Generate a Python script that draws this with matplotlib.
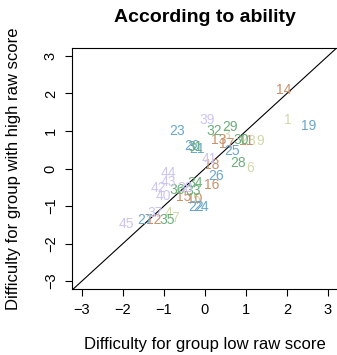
import matplotlib
matplotlib.use("Agg")
import matplotlib.pyplot as plt
import numpy as np

plt.rcParams['font.family'] = ['Liberation Sans', 'DejaVu Sans']

labels = list(range(1, 46))
x_low = [2.03, 0.95, 0.53, -0.88, -0.20, 1.10, -0.73, 1.14, 1.34,
         -0.24, 1.00, -1.26, 0.34, 1.91, -0.53, 0.16, 0.53, 0.16,
         2.54, -0.32, -0.20, -0.22, -0.69, -0.10, 0.65, 0.27, -1.46,
         0.81, 0.61, 0.89, -0.24, 0.22, -0.29, -0.24, -0.93, -0.69,
         -1.22, -0.49, 0.06, -1.02, 0.10, -1.14, -0.89, -0.89, -1.91]
y_high = [1.28, 0.75, 0.88, -1.18, -0.82, 0.00, -1.31, 0.74, 0.74,
          -0.82, 0.74, -1.36, 0.77, 2.09, -0.75, -0.45, 0.66, 0.09,
          1.14, 0.59, 0.51, -1.02, 1.00, -1.02, 0.46, -0.19, -1.36,
          0.15, 1.10, 0.75, 0.57, 0.99, -0.60, -0.38, -1.37, -0.56,
          -1.18, -0.51, 1.30, -0.72, 0.24, -0.51, -0.35, -0.11, -1.49]
group_colors = ['#D3D8AC', '#C98F6A', '#6AA6CC', '#6BAF7C', '#CCC5F2']
ticks = [-3, -2, -1, 0, 1, 2, 3]

W, H = 337, 355
fig = plt.figure(figsize=(W / 100, H / 100), dpi=100)
left_px, top_px, bottom_px = 71.7, 47.7, 289.3
ax = fig.add_axes([left_px / W, 1 - bottom_px / H, 266.5 / W, (bottom_px - top_px) / H])
ax.set_xlim(-3.25, 3.25)
ax.set_ylim(-3.22, 3.22)

ax.plot([-4, 4], [-4, 4], color='black', lw=0.8)
for lab, xv, yv in zip(labels, x_low, y_high):
    c = group_colors[(lab - 1) // 9]
    ax.text(xv, yv, str(lab), color=c, fontsize=10, ha='center', va='center')

ax.set_xticks(ticks)
ax.set_yticks(ticks)
ax.set_xticklabels([str(t).replace('-', '\u2212') for t in ticks])
ax.set_yticklabels([str(t).replace('-', '\u2212') for t in ticks], rotation=90, va='center')
ax.tick_params(direction='out', length=5, width=0.8, labelsize=10.5, pad=5, colors='black')
for s in ax.spines.values():
    s.set_linewidth(0.8)
ax.spines['right'].set_visible(False)

fig.text(205 / W, 1 - 18 / H, 'According to ability', ha='center', va='center',
         fontsize=14, fontweight='bold')
fig.text(205 / W, 1 - 345 / H, 'Difficulty for group low raw score', ha='center',
         va='center', fontsize=12)
fig.text(14 / W, 1 - 168.5 / H, 'Difficulty for group with high raw score', ha='center',
         va='center', fontsize=12, rotation=90)

fig.savefig('out.png', dpi=100)
